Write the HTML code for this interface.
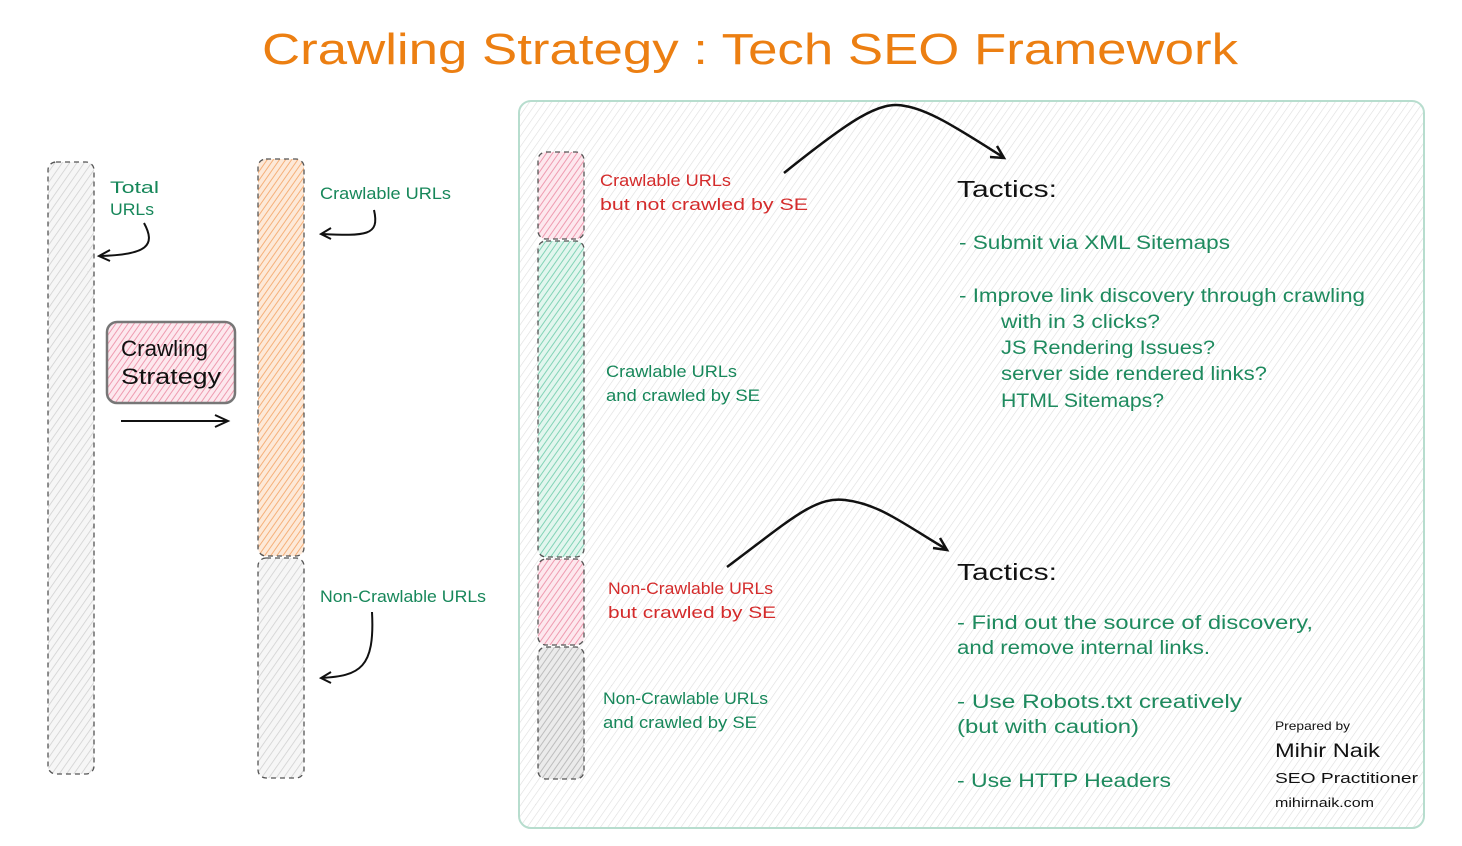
<!DOCTYPE html>
<html><head><meta charset="utf-8"><style>
html,body{margin:0;padding:0;background:#fff;}
svg{display:block;}
text{font-family:"Liberation Sans",sans-serif;}
.g{fill:#17875a;font-size:17px;}
.r{fill:#d42b2b;font-size:17px;}
.t{fill:#1e8a5e;font-size:19px;}
</style></head><body>
<svg width="1462" height="846" viewBox="0 0 1462 846" xmlns="http://www.w3.org/2000/svg">
<defs>
<pattern id="hg" width="6" height="6" patternUnits="userSpaceOnUse" patternTransform="rotate(35)"><rect width="6" height="6" fill="#f6f6f6"/><line x1="0" y1="0" x2="0" y2="6" stroke="#cfcfcf" stroke-width="1.5"/></pattern>
<pattern id="hp" width="5" height="5" patternUnits="userSpaceOnUse" patternTransform="rotate(35)"><rect width="5" height="5" fill="#fde8ee"/><line x1="0" y1="0" x2="0" y2="5" stroke="#ee9bb0" stroke-width="2"/></pattern>
<pattern id="ho" width="5" height="5" patternUnits="userSpaceOnUse" patternTransform="rotate(35)"><rect width="5" height="5" fill="#fde9d8"/><line x1="0" y1="0" x2="0" y2="5" stroke="#f5b07a" stroke-width="2"/></pattern>
<pattern id="hn" width="5" height="5" patternUnits="userSpaceOnUse" patternTransform="rotate(35)"><rect width="5" height="5" fill="#e2f6ee"/><line x1="0" y1="0" x2="0" y2="5" stroke="#82d3b6" stroke-width="2"/></pattern>
<pattern id="hd" width="5" height="5" patternUnits="userSpaceOnUse" patternTransform="rotate(35)"><rect width="5" height="5" fill="#ebebeb"/><line x1="0" y1="0" x2="0" y2="5" stroke="#bdbdbd" stroke-width="2"/></pattern>
<pattern id="hl" width="6" height="6" patternUnits="userSpaceOnUse" patternTransform="rotate(35)"><rect width="6" height="6" fill="#fff"/><line x1="0" y1="0" x2="0" y2="6" stroke="#dedede" stroke-width="1.2"/></pattern>
</defs>

<text x="262" y="64" fill="#ec7f12" font-size="44" textLength="976" lengthAdjust="spacingAndGlyphs">Crawling Strategy : Tech SEO Framework</text>

<rect x="48" y="162" width="46" height="612" rx="8" fill="url(#hg)" stroke="#555" stroke-width="1.3" stroke-dasharray="5,4"/>
<rect x="258" y="159" width="46" height="397" rx="8" fill="url(#ho)" stroke="#555" stroke-width="1.3" stroke-dasharray="5,4"/>
<rect x="258" y="558" width="46" height="220" rx="8" fill="url(#hg)" stroke="#555" stroke-width="1.3" stroke-dasharray="5,4"/>

<rect x="107" y="322" width="128" height="81" rx="10" fill="url(#hp)" stroke="#777" stroke-width="2.5"/>
<text x="121" y="356" font-size="22" fill="#111" textLength="87" lengthAdjust="spacingAndGlyphs">Crawling</text>
<text x="121" y="384" font-size="22" fill="#111" textLength="100" lengthAdjust="spacingAndGlyphs">Strategy</text>
<path d="M121 421 L227 421 M215 415 L228 421 L215 427" fill="none" stroke="#111" stroke-width="2"/>

<text x="110" y="193" class="g" textLength="49" lengthAdjust="spacingAndGlyphs">Total</text>
<text x="110" y="215" class="g" textLength="44" lengthAdjust="spacingAndGlyphs">URLs</text>
<text x="320" y="199" class="g" textLength="131" lengthAdjust="spacingAndGlyphs">Crawlable URLs</text>
<text x="320" y="602" class="g" textLength="166" lengthAdjust="spacingAndGlyphs">Non-Crawlable URLs</text>

<g fill="none" stroke="#111" stroke-width="2">
<path d="M144 223 C156 245 148 255 99 256 M110 250 L99 256 L110 261"/>
<path d="M374 210 C380 236 366 236 321 234 M331 228 L321 234 L331 239"/>
<path d="M372 612 C375 668 360 676 321 678 M331 672 L321 678 L331 683"/>
</g>

<rect x="519" y="101" width="905" height="727" rx="12" fill="url(#hl)" stroke="#b7ddce" stroke-width="2"/>

<rect x="538" y="152" width="46" height="87" rx="8" fill="url(#hp)" stroke="#555" stroke-width="1.3" stroke-dasharray="5,4"/>
<rect x="538" y="241" width="46" height="316" rx="8" fill="url(#hn)" stroke="#555" stroke-width="1.3" stroke-dasharray="5,4"/>
<rect x="538" y="559" width="46" height="86" rx="8" fill="url(#hp)" stroke="#555" stroke-width="1.3" stroke-dasharray="5,4"/>
<rect x="538" y="647" width="46" height="132" rx="8" fill="url(#hd)" stroke="#555" stroke-width="1.3" stroke-dasharray="5,4"/>

<text x="600" y="186" class="r" textLength="131" lengthAdjust="spacingAndGlyphs">Crawlable URLs</text>
<text x="600" y="210" class="r" textLength="208" lengthAdjust="spacingAndGlyphs">but not crawled by SE</text>
<text x="606" y="377" class="g" textLength="131" lengthAdjust="spacingAndGlyphs">Crawlable URLs</text>
<text x="606" y="401" class="g" textLength="154" lengthAdjust="spacingAndGlyphs">and crawled by SE</text>
<text x="608" y="594" class="r" textLength="165" lengthAdjust="spacingAndGlyphs">Non-Crawlable URLs</text>
<text x="608" y="618" class="r" textLength="168" lengthAdjust="spacingAndGlyphs">but crawled by SE</text>
<text x="603" y="704" class="g" textLength="165" lengthAdjust="spacingAndGlyphs">Non-Crawlable URLs</text>
<text x="603" y="728" class="g" textLength="154" lengthAdjust="spacingAndGlyphs">and crawled by SE</text>

<g fill="none" stroke="#111" stroke-width="2.5">
<path d="M784 173 C850 120 880 100 905 106 C930 110 960 130 1003 157 M990 157 L1004 158 L997 146"/>
<path d="M727 567 C790 520 815 496 845 500 C880 504 905 525 946 549 M933 548 L947 550 L940 538"/>
</g>

<text x="957" y="197" font-size="23" fill="#111" textLength="100" lengthAdjust="spacingAndGlyphs">Tactics:</text>
<text x="959" y="249" class="t" textLength="271" lengthAdjust="spacingAndGlyphs">- Submit via XML Sitemaps</text>
<text x="959" y="302" class="t" textLength="406" lengthAdjust="spacingAndGlyphs">- Improve link discovery through crawling</text>
<text x="1001" y="328" class="t" textLength="159" lengthAdjust="spacingAndGlyphs">with in 3 clicks?</text>
<text x="1001" y="354" class="t" textLength="214" lengthAdjust="spacingAndGlyphs">JS Rendering Issues?</text>
<text x="1001" y="380" class="t" textLength="266" lengthAdjust="spacingAndGlyphs">server side rendered links?</text>
<text x="1001" y="407" class="t" textLength="163" lengthAdjust="spacingAndGlyphs">HTML Sitemaps?</text>

<text x="957" y="580" font-size="23" fill="#111" textLength="100" lengthAdjust="spacingAndGlyphs">Tactics:</text>
<text x="957" y="629" class="t" textLength="356" lengthAdjust="spacingAndGlyphs">- Find out the source of discovery,</text>
<text x="957" y="654" class="t" textLength="253" lengthAdjust="spacingAndGlyphs">and remove internal links.</text>
<text x="957" y="708" class="t" textLength="285" lengthAdjust="spacingAndGlyphs">- Use Robots.txt creatively</text>
<text x="957" y="733" class="t" textLength="182" lengthAdjust="spacingAndGlyphs">(but with caution)</text>
<text x="957" y="787" class="t" textLength="214" lengthAdjust="spacingAndGlyphs">- Use HTTP Headers</text>

<text x="1275" y="730" font-size="12" fill="#111" textLength="75" lengthAdjust="spacingAndGlyphs">Prepared by</text>
<text x="1275" y="757" font-size="19" fill="#111" textLength="105" lengthAdjust="spacingAndGlyphs">Mihir Naik</text>
<text x="1275" y="783" font-size="15" fill="#111" textLength="143" lengthAdjust="spacingAndGlyphs">SEO Practitioner</text>
<text x="1275" y="807" font-size="13" fill="#111" textLength="99" lengthAdjust="spacingAndGlyphs">mihirnaik.com</text>
</svg>
</body></html>
